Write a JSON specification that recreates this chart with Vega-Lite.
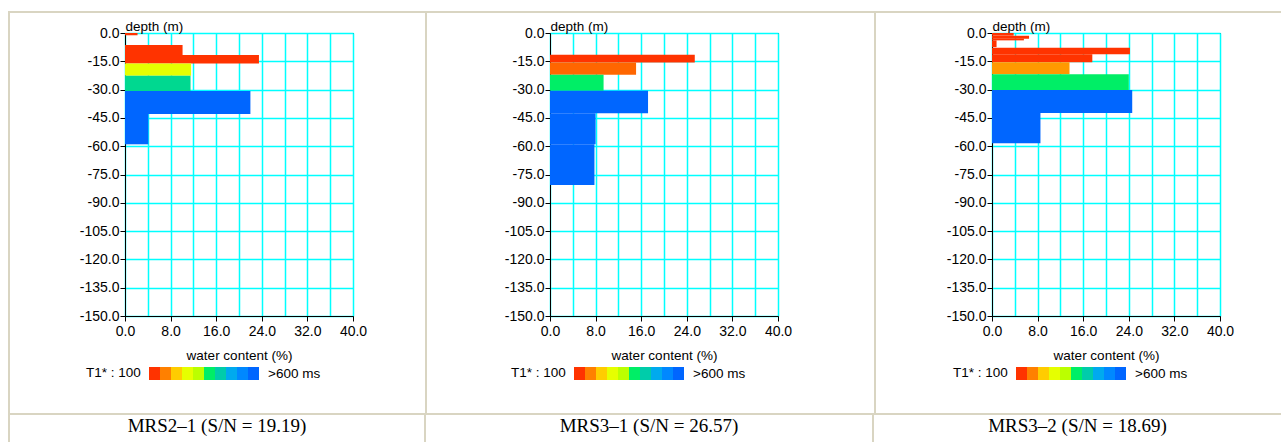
{
  "$schema": "https://vega.github.io/schema/vega-lite/v6.json",
  "padding": {"left": 8, "top": 11, "right": 0, "bottom": 0},
  "background": "white",
  "spacing": 0,
  "resolve": {"scale": {"color": "independent"}},
  "datasets": {
    "p1": [
      {"d0": 0, "d1": -1.2, "wc": 2.2, "t1": 1},
      {"d0": -6.4, "d1": -11.7, "wc": 10.1, "t1": 1},
      {"d0": -11.7, "d1": -16.1, "wc": 23.5, "t1": 1},
      {"d0": -16.1, "d1": -22.6, "wc": 11.6, "t1": 4},
      {"d0": -22.6, "d1": -30.7, "wc": 11.5, "t1": 6.5},
      {"d0": -30.7, "d1": -42.9, "wc": 22.0, "t1": 10},
      {"d0": -42.9, "d1": -59.0, "wc": 4.1, "t1": 10}
    ],
    "p2": [
      {"d0": -11.5, "d1": -15.7, "wc": 25.4, "t1": 1},
      {"d0": -15.7, "d1": -22.1, "wc": 15.1, "t1": 1.5},
      {"d0": -22.1, "d1": -30.6, "wc": 9.4, "t1": 6},
      {"d0": -30.6, "d1": -42.6, "wc": 17.2, "t1": 10},
      {"d0": -42.6, "d1": -59.0, "wc": 8.0, "t1": 10},
      {"d0": -59.0, "d1": -80.5, "wc": 7.8, "t1": 10}
    ],
    "p3": [
      {"d0": 0, "d1": -1.4, "wc": 3.8, "t1": 1},
      {"d0": -1.4, "d1": -3.0, "wc": 6.5, "t1": 1},
      {"d0": -3.0, "d1": -3.9, "wc": 5.6, "t1": 1},
      {"d0": -3.9, "d1": -7.5, "wc": 0.8, "t1": 1},
      {"d0": -7.8, "d1": -11.3, "wc": 24.2, "t1": 1},
      {"d0": -11.3, "d1": -15.5, "wc": 17.6, "t1": 1},
      {"d0": -15.5, "d1": -21.9, "wc": 13.6, "t1": 2.5},
      {"d0": -21.9, "d1": -30.2, "wc": 24.0, "t1": 6},
      {"d0": -30.2, "d1": -42.4, "wc": 24.6, "t1": 10},
      {"d0": -42.4, "d1": -58.5, "wc": 8.5, "t1": 10}
    ]
  },
  "vconcat": [
    {"width": 1273, "height": 2, "data": {"values": []}, "mark": "point", "view": {"fill": "#d9d5c2", "stroke": null}},
    {
      "hconcat": [
        {"width": 2, "height": 400, "data": {"values": []}, "mark": "point", "view": {"fill": "#d9d5c2", "stroke": null}},
        {
          "vconcat": [
            {"width": 300, "height": 1, "data": {"values": []}, "mark": "point", "view": {"stroke": null}},
            {
              "width": 228, "height": 283,
              "data": {"name": "p1"},
              "view": {"stroke": "#000000", "strokeWidth": 1},
              "mark": {"type": "rect"},
              "encoding": {
                "x": {"field": "wc", "type": "quantitative", "scale": {"domain": [0, 40], "nice": false},
                  "axis": {"title": "water content (%)", "values": [0,4,8,12,16,20,24,28,32,36,40],
                    "labelExpr": "datum.value % 8 == 0 ? format(datum.value, '.1f') : ''",
                    "tickOpacity": {"condition": {"test": "datum.value % 8 != 0", "value": 0}, "value": 1},
                    "grid": true, "labelPadding": 3, "titlePadding": 10, "labelFlush": false, "labelOverlap": false}},
                "x2": {"datum": 0},
                "y": {"field": "d0", "type": "quantitative", "scale": {"domain": [-150, 0], "nice": false},
                  "axis": {"title": "depth (m)", "values": [-150,-135,-120,-105,-90,-75,-60,-45,-30,-15,0],
                    "labelExpr": "replace(format(datum.value, '.1f'), '\u2212', '-')",
                    "grid": true, "labelPadding": 1, "labelFlush": false, "labelOverlap": false,
                    "titleAngle": 0, "titleAlign": "left", "titleBaseline": "alphabetic", "titleX": 0, "titleY": -3, "minExtent": 114}},
                "y2": {"field": "d1"},
                "color": {"field": "t1", "type": "ordinal",
                  "scale": {"domain": [1,2,3,4,5,6,7,8,9,10,1.5,2.5,6.5], "range": ["#ff3300","#ff8000","#ffcc00","#e6ff00","#bbff00","#00ee66","#00ccaa","#00aaee","#0088ff","#0066ff","#ff6600","#ff9900","#00d890"]},
                  "legend": {"orient": "none", "legendX": -39, "legendY": 335, "direction": "horizontal",
                    "title": "T1* : 100", "titleOrient": "left", "titlePadding": 8,
                    "values": [1,2,3,4,5,6,7,8,9,10],
                    "symbolType": "M-1,-1.18H1V1.18H-1Z", "symbolSize": 121, "symbolStrokeWidth": 0, "symbolOpacity": 1,
                    "labelExpr": "datum.value == 10 ? '>600 ms' : ''", "labelOffset": 0, "labelFontSize": 11,
                    "encode": {"labels": {"update": {"fontSize": {"signal": "datum.value == 10 ? 13.5 : 11"}, "dx": {"signal": "datum.value == 10 ? 9 : 0"}}}, "title": {"update": {"dy": {"value": -1}}}},
                    "columnPadding": 0, "rowPadding": 0, "padding": 0}}
              }
            }
          ],
          "spacing": 4,
          "resolve": {"scale": {"color": "independent"}}
        },
        {"width": 2, "height": 400, "data": {"values": []}, "mark": "point", "view": {"fill": "#d9d5c2", "stroke": null}},
        {
          "vconcat": [
            {"width": 324, "height": 1, "data": {"values": []}, "mark": "point", "view": {"stroke": null}},
            {
              "width": 228, "height": 283,
              "data": {"name": "p2"},
              "view": {"stroke": "#000000", "strokeWidth": 1},
              "mark": {"type": "rect"},
              "encoding": {
                "x": {"field": "wc", "type": "quantitative", "scale": {"domain": [0, 40], "nice": false},
                  "axis": {"title": "water content (%)", "values": [0,4,8,12,16,20,24,28,32,36,40],
                    "labelExpr": "datum.value % 8 == 0 ? format(datum.value, '.1f') : ''",
                    "tickOpacity": {"condition": {"test": "datum.value % 8 != 0", "value": 0}, "value": 1},
                    "grid": true, "labelPadding": 3, "titlePadding": 10, "labelFlush": false, "labelOverlap": false}},
                "x2": {"datum": 0},
                "y": {"field": "d0", "type": "quantitative", "scale": {"domain": [-150, 0], "nice": false},
                  "axis": {"title": "depth (m)", "values": [-150,-135,-120,-105,-90,-75,-60,-45,-30,-15,0],
                    "labelExpr": "replace(format(datum.value, '.1f'), '\u2212', '-')",
                    "grid": true, "labelPadding": 1, "labelFlush": false, "labelOverlap": false,
                    "titleAngle": 0, "titleAlign": "left", "titleBaseline": "alphabetic", "titleX": 0, "titleY": -3, "minExtent": 122}},
                "y2": {"field": "d1"},
                "color": {"field": "t1", "type": "ordinal",
                  "scale": {"domain": [1,2,3,4,5,6,7,8,9,10,1.5,2.5,6.5], "range": ["#ff3300","#ff8000","#ffcc00","#e6ff00","#bbff00","#00ee66","#00ccaa","#00aaee","#0088ff","#0066ff","#ff6600","#ff9900","#00d890"]},
                  "legend": {"orient": "none", "legendX": -39, "legendY": 335, "direction": "horizontal",
                    "title": "T1* : 100", "titleOrient": "left", "titlePadding": 8,
                    "values": [1,2,3,4,5,6,7,8,9,10],
                    "symbolType": "M-1,-1.18H1V1.18H-1Z", "symbolSize": 121, "symbolStrokeWidth": 0, "symbolOpacity": 1,
                    "labelExpr": "datum.value == 10 ? '>600 ms' : ''", "labelOffset": 0, "labelFontSize": 11,
                    "encode": {"labels": {"update": {"fontSize": {"signal": "datum.value == 10 ? 13.5 : 11"}, "dx": {"signal": "datum.value == 10 ? 9 : 0"}}}, "title": {"update": {"dy": {"value": -1}}}},
                    "columnPadding": 0, "rowPadding": 0, "padding": 0}}
              }
            }
          ],
          "spacing": 4,
          "resolve": {"scale": {"color": "independent"}}
        },
        {"width": 2, "height": 400, "data": {"values": []}, "mark": "point", "view": {"fill": "#d9d5c2", "stroke": null}},
        {
          "vconcat": [
            {"width": 292, "height": 1, "data": {"values": []}, "mark": "point", "view": {"stroke": null}},
            {
              "width": 228, "height": 283,
              "data": {"name": "p3"},
              "view": {"stroke": "#000000", "strokeWidth": 1},
              "mark": {"type": "rect"},
              "encoding": {
                "x": {"field": "wc", "type": "quantitative", "scale": {"domain": [0, 40], "nice": false},
                  "axis": {"title": "water content (%)", "values": [0,4,8,12,16,20,24,28,32,36,40],
                    "labelExpr": "datum.value % 8 == 0 ? format(datum.value, '.1f') : ''",
                    "tickOpacity": {"condition": {"test": "datum.value % 8 != 0", "value": 0}, "value": 1},
                    "grid": true, "labelPadding": 3, "titlePadding": 10, "labelFlush": false, "labelOverlap": false}},
                "x2": {"datum": 0},
                "y": {"field": "d0", "type": "quantitative", "scale": {"domain": [-150, 0], "nice": false},
                  "axis": {"title": "depth (m)", "values": [-150,-135,-120,-105,-90,-75,-60,-45,-30,-15,0],
                    "labelExpr": "replace(format(datum.value, '.1f'), '\u2212', '-')",
                    "grid": true, "labelPadding": 1, "labelFlush": false, "labelOverlap": false,
                    "titleAngle": 0, "titleAlign": "left", "titleBaseline": "alphabetic", "titleX": 0, "titleY": -3, "minExtent": 115}},
                "y2": {"field": "d1"},
                "color": {"field": "t1", "type": "ordinal",
                  "scale": {"domain": [1,2,3,4,5,6,7,8,9,10,1.5,2.5,6.5], "range": ["#ff3300","#ff8000","#ffcc00","#e6ff00","#bbff00","#00ee66","#00ccaa","#00aaee","#0088ff","#0066ff","#ff6600","#ff9900","#00d890"]},
                  "legend": {"orient": "none", "legendX": -39, "legendY": 335, "direction": "horizontal",
                    "title": "T1* : 100", "titleOrient": "left", "titlePadding": 8,
                    "values": [1,2,3,4,5,6,7,8,9,10],
                    "symbolType": "M-1,-1.18H1V1.18H-1Z", "symbolSize": 121, "symbolStrokeWidth": 0, "symbolOpacity": 1,
                    "labelExpr": "datum.value == 10 ? '>600 ms' : ''", "labelOffset": 0, "labelFontSize": 11,
                    "encode": {"labels": {"update": {"fontSize": {"signal": "datum.value == 10 ? 13.5 : 11"}, "dx": {"signal": "datum.value == 10 ? 9 : 0"}}}, "title": {"update": {"dy": {"value": -1}}}},
                    "columnPadding": 0, "rowPadding": 0, "padding": 0}}
              }
            }
          ],
          "spacing": 4,
          "resolve": {"scale": {"color": "independent"}}
        }
      ],
      "spacing": 0,
      "resolve": {"scale": {"color": "independent"}}
    },
    {"width": 1273, "height": 2, "data": {"values": []}, "mark": "point", "view": {"fill": "#d9d5c2", "stroke": null}},
    {
      "hconcat": [
        {"width": 2, "height": 27, "data": {"values": []}, "mark": "point", "view": {"fill": "#d9d5c2", "stroke": null}},
        {"width": 414, "height": 22, "data": {"values": [{"cap": "MRS2–1 (S/N = 19.19)"}]},
         "mark": {"type": "text", "font": "Liberation Serif", "fontSize": 19, "color": "#000000", "baseline": "middle", "align": "center"},
         "encoding": {"text": {"field": "cap"}}},
        {"width": 2, "height": 27, "data": {"values": []}, "mark": "point", "view": {"fill": "#d9d5c2", "stroke": null}},
        {"width": 446, "height": 22, "data": {"values": [{"cap": "MRS3–1 (S/N = 26.57)"}]},
         "mark": {"type": "text", "font": "Liberation Serif", "fontSize": 19, "color": "#000000", "baseline": "middle", "align": "center"},
         "encoding": {"text": {"field": "cap"}}},
        {"width": 2, "height": 27, "data": {"values": []}, "mark": "point", "view": {"fill": "#d9d5c2", "stroke": null}},
        {"width": 407, "height": 22, "data": {"values": [{"cap": "MRS3–2 (S/N = 18.69)"}]},
         "mark": {"type": "text", "font": "Liberation Serif", "fontSize": 19, "color": "#000000", "baseline": "middle", "align": "center"},
         "encoding": {"text": {"field": "cap"}}}
      ],
      "spacing": 0
    }
  ],
  "config": {
    "view": {"stroke": null},
    "font": "Liberation Sans",
    "axis": {"labelFont": "Liberation Sans", "labelFontSize": 14, "labelColor": "#000000",
      "titleFont": "Liberation Sans", "titleFontSize": 13.5, "titleFontWeight": "normal", "titleColor": "#000000",
      "domainColor": "#000000", "tickColor": "#000000", "tickSize": 5,
      "gridColor": "#00ffff", "gridWidth": 1.5, "gridOpacity": 1},
    "legend": {"labelFont": "Liberation Sans", "labelColor": "#000000",
      "titleFont": "Liberation Sans", "titleFontSize": 13.5, "titleFontWeight": "normal", "titleColor": "#000000"}
  }
}
